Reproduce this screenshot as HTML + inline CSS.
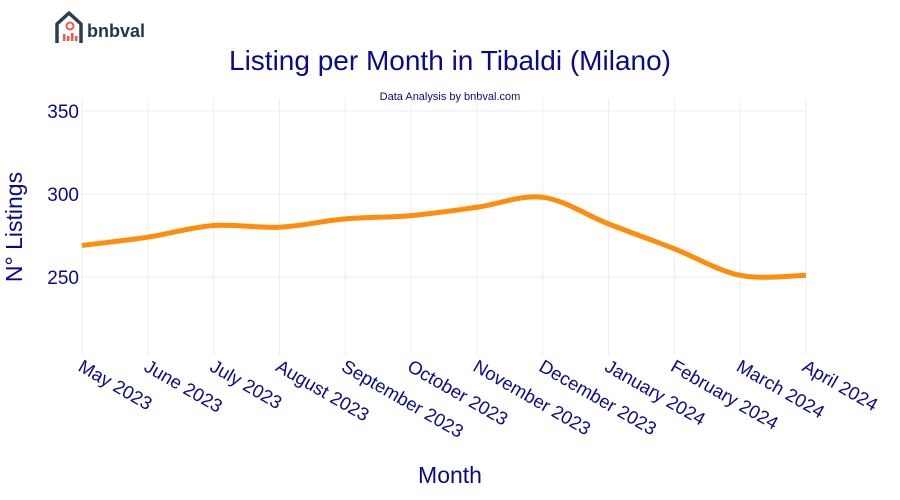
<!DOCTYPE html>
<html><head><meta charset="utf-8"><style>body{margin:0;background:#fff}svg{display:block;font-family:"Liberation Sans",Arial,sans-serif}</style></head>
<body>
<svg id="c" width="900" height="500">
<g>
<path d="M57,43 V24 L69,13 L81,24 V43" fill="none" stroke="#2c3e50" stroke-width="3.5" stroke-linejoin="round"/>
<circle cx="70" cy="26" r="3.5" fill="none" stroke="#f05a44" stroke-width="2"/>
<rect x="63" y="34" width="2.5" height="7" fill="#f05a44"/><rect x="67" y="36" width="2.5" height="5" fill="#f05a44"/><rect x="71" y="33" width="2.5" height="8" fill="#f05a44"/><rect x="75" y="36" width="2.5" height="5" fill="#f05a44"/>
<text x="87" y="37" font-size="18" font-weight="bold" fill="#1e3a4a">bnbval</text>
</g>
<text x="450" y="70" text-anchor="middle" font-size="28" fill="#0a0a8c">Listing per Month in Tibaldi (Milano)</text>
<text x="450" y="100" text-anchor="middle" font-size="11" fill="#0a0a8c">Data Analysis by bnbval.com</text>
<g id="grid"></g><g id="axes"></g><g id="series"></g>
<text x="450" y="483" text-anchor="middle" font-size="23" fill="#0a0a8c">Month</text>
<text transform="translate(22,227) rotate(-90)" text-anchor="middle" font-size="23" fill="#0a0a8c">N° Listings</text>
</svg>
<script>
const months=["May 2023","June 2023","July 2023","August 2023","September 2023","October 2023","November 2023","December 2023","January 2024","February 2024","March 2024","April 2024"];
const listings=[269,274,281,280,285,287,292,298,282,267,251,251];
const yTicks=[250,300,350];
const NS="http://www.w3.org/2000/svg";
const x0=82,x1=806,yTop=98,yBottom=355;
const xs=i=>x0+(x1-x0)*i/(months.length-1);
const ys=v=>277-(v-250)*83/50;
function mk(t,a,p){const e=document.createElementNS(NS,t);for(const k in a)e.setAttribute(k,a[k]);p.appendChild(e);return e;}
const grid=document.getElementById('grid'),axes=document.getElementById('axes'),series=document.getElementById('series');
months.forEach((m,i)=>{
  const l=mk('line',{x1:xs(i),x2:xs(i),y1:yTop,y2:yBottom,stroke:'#ebedf5','stroke-width':1},grid);
  
  
  const t=mk('text',{transform:`translate(${xs(i)-5},370) rotate(30)`,'font-size':18.5,fill:'#0a0a8c'},axes);
  t.textContent=m;
  
  
});
yTicks.forEach(v=>{
  const l=mk('line',{x1:x0,x2:x1,y1:ys(v),y2:ys(v),stroke:'#ebedf5','stroke-width':1},grid);
  
  
  const t=mk('text',{x:x0-3,y:ys(v)+7,'text-anchor':'end','font-size':19,fill:'#0a0a8c'},axes);
  t.textContent=v;
  
  
});
const pts=listings.map((v,i)=>[xs(i),ys(v)]);
let d=`M${pts[0][0]},${pts[0][1]}`;
for(let i=0;i<pts.length-1;i++){
  const p0=pts[Math.max(0,i-1)],p1=pts[i],p2=pts[i+1],p3=pts[Math.min(pts.length-1,i+2)];
  const k=1/6;
  d+=` C${p1[0]+(p2[0]-p0[0])*k},${p1[1]+(p2[1]-p0[1])*k} ${p2[0]-(p3[0]-p1[0])*k},${p2[1]-(p3[1]-p1[1])*k} ${p2[0]},${p2[1]}`;
}
const line=mk('path',{d:d,fill:'none',stroke:'#ff8c0a','stroke-width':5},series);


</script>
</body></html>
